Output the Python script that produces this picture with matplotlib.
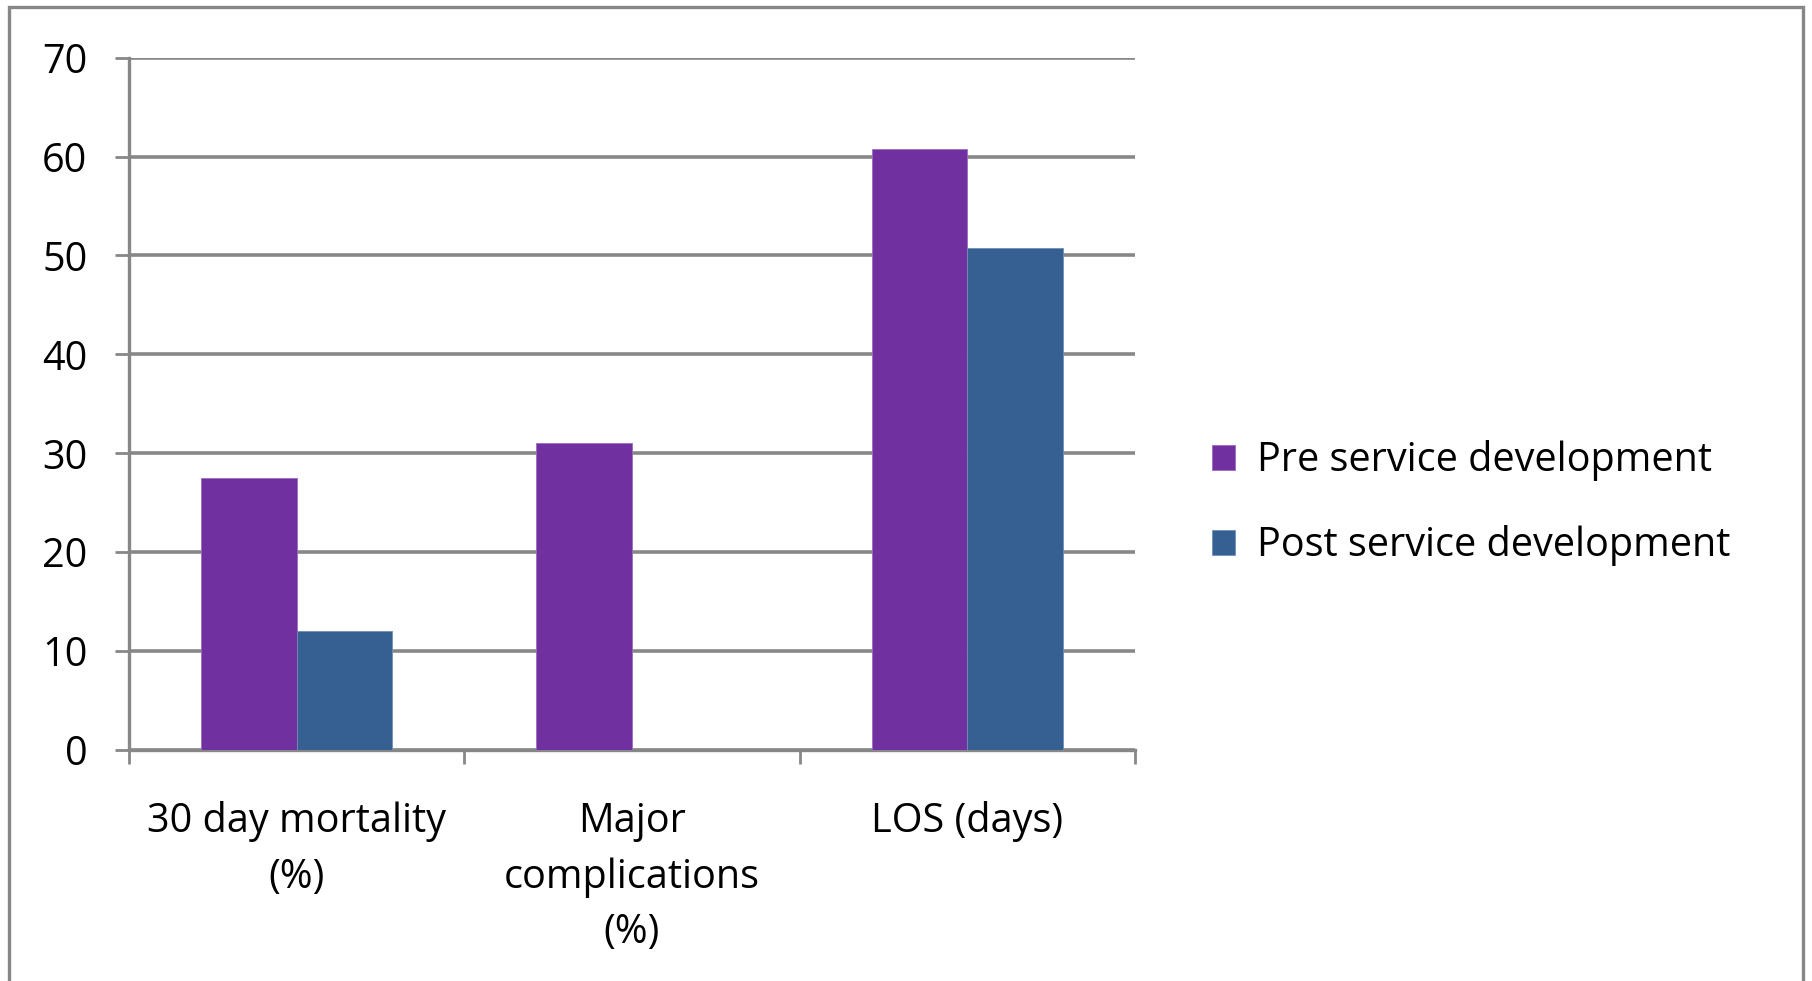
import matplotlib.pyplot as plt
from matplotlib.patches import Rectangle
import numpy as np

categories = ["30 day mortality\n(%)", "Major\ncomplications\n(%)", "LOS (days)"]
pre = [27.5, 31, 60.8]
post = [12, 0, 50.8]
series_names = ["Pre service development", "Post service development"]
yticks = [0, 10, 20, 30, 40, 50, 60, 70]

plt.rcParams["font.family"] = ["Open Sans", "DejaVu Sans"]
grey = "#878787"
fs = 28.5

fig = plt.figure(figsize=(18.12, 9.81), dpi=100)
ax = fig.add_axes([0.0712, 0.2355, 0.5552, 0.7057])

x = np.arange(len(categories))
w = 0.285
ax.bar(x - w / 2, pre, w, color="#7030A0", edgecolor="#9a6cc0", linewidth=0.6,
       label=series_names[0], zorder=3)
ax.bar(x + w / 2, post, w, color="#376092", edgecolor="#6f8fb5", linewidth=0.6,
       label=series_names[1], zorder=3)

ax.set_xlim(-0.5, 2.5)
ax.set_ylim(0, 70)
ax.set_yticks(yticks)
ax.yaxis.grid(True, color=grey, linewidth=2.6, zorder=1)
ax.tick_params(axis="y", length=10, width=2, color=grey, pad=20, labelsize=fs)

# category labels centred, tick marks on the boundaries
ax.set_xticks(x)
ax.set_xticklabels(categories, fontsize=fs, linespacing=1.5)
ax.tick_params(axis="x", which="major", length=0, pad=37)
ax.set_xticks([-0.5, 0.5, 1.5, 2.5], minor=True)
ax.tick_params(axis="x", which="minor", length=10, width=2, color=grey)

for s in ["top", "right"]:
    ax.spines[s].set_visible(False)
for s in ["left", "bottom"]:
    ax.spines[s].set_color(grey)
    ax.spines[s].set_linewidth(2.4)

fig.legend(loc="center left", bbox_to_anchor=(0.649, 0.487), frameon=False,
           fontsize=fs, handlelength=0.6, handleheight=0.6, handletextpad=0.55,
           labelspacing=1.1)

fig.patches.append(Rectangle((9 / 1812, -0.05), 1794 / 1812, 1.05 - 7 / 981,
                             transform=fig.transFigure, fill=False,
                             edgecolor=grey, linewidth=2.4))

fig.savefig("out.png", dpi=100)
